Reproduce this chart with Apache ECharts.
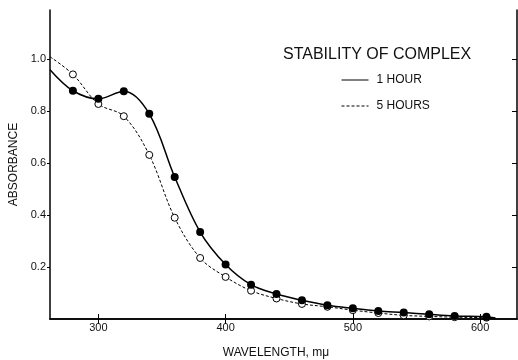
<!DOCTYPE html>
<html>
<head>
<meta charset="utf-8">
<script src="https://cdn.jsdelivr.net/npm/echarts@6/dist/echarts.min.js"></script>
<style>
html,body{margin:0;padding:0;background:#fff;}
#c{width:518px;height:360px;}
</style>
</head>
<body>
<div id="c"></div>
<script>
// ---- data ----
const wavelengths = [280, 300, 320, 340, 360, 380, 400, 420, 440, 460, 480, 500, 520, 540, 560, 580, 605];
const hour1 = [0.879, 0.848, 0.877, 0.790, 0.547, 0.335, 0.210, 0.132, 0.096, 0.072, 0.053, 0.041, 0.031, 0.025, 0.018, 0.012, 0.009];
const hour5 = [0.942, 0.828, 0.781, 0.632, 0.390, 0.235, 0.162, 0.109, 0.079, 0.058, 0.047, 0.034, 0.023, 0.014, 0.010, 0.007, 0.005];
// curve continuation beyond the plotted points (no marker)
const hour1Start = [262, 0.96], hour1End = [612, 0.004];
const hour5Start = [262, 1.01], hour5End = [612, 0.003];
const xTicks = [300, 400, 500, 600];
const yTicks = [0.2, 0.4, 0.6, 0.8, 1.0];
const seriesNames = ['1 HOUR', '5 HOURS'];
const titleText = 'STABILITY OF COMPLEX';
const xName = 'WAVELENGTH, m\u03bc';
const yName = 'ABSORBANCE';

function build(xs, ys, start, end) {
  const d = [{value: start, symbol: 'none'}];
  xs.forEach((x, i) => d.push([x, ys[i]]));
  d.push({value: end, symbol: 'none'});
  return d;
}

const FONT = 'Liberation Sans';
const chart = echarts.init(document.getElementById('c'), null, {renderer: 'canvas'});
const axisLine = {show: true, lineStyle: {color: '#000', width: 1.5}};
chart.setOption({
  animation: false,
  backgroundColor: '#fff',
  title: {
    text: titleText, left: 283, top: 47, padding: 0,
    textStyle: {fontFamily: FONT, fontSize: 16, fontWeight: 'normal', color: '#111'}
  },
  legend: {
    orient: 'vertical', left: 341, top: 74, padding: 0,
    itemWidth: 27, itemHeight: 10, itemGap: 14,
    itemStyle: {opacity: 0},
    lineStyle: {width: 1},
    textStyle: {fontFamily: FONT, fontSize: 12, color: '#111', padding: [0, 0, 0, 3]},
    data: seriesNames
  },
  grid: {left: 50, right: 1, top: 10, bottom: 41, containLabel: false, outerBoundsMode: 'none'},
  xAxis: [{
    type: 'value', min: 262, max: 629, position: 'bottom',
    name: xName, nameLocation: 'middle', nameGap: 28,
    nameTextStyle: {fontFamily: FONT, fontSize: 12, color: '#111', padding: [0, 15, 0, 0]},
    axisLine: axisLine,
    axisTick: {show: true, inside: true, length: 5, customValues: xTicks, lineStyle: {color: '#000', width: 1}},
    axisLabel: {customValues: xTicks, fontFamily: FONT, fontSize: 11, color: '#111', margin: 3},
    splitLine: {show: false}
  }, {
    type: 'value', min: 262, max: 629, position: 'top',
    axisLine: axisLine,
    axisTick: {show: true, inside: true, length: 5, customValues: xTicks, lineStyle: {color: '#000', width: 1}},
    axisLabel: {show: false},
    splitLine: {show: false}
  }],
  yAxis: [{
    type: 'value', min: 0, max: 1.19, position: 'left',
    name: yName, nameLocation: 'middle', nameGap: 30, nameRotate: 90,
    nameTextStyle: {fontFamily: FONT, fontSize: 12, color: '#111'},
    axisLine: axisLine,
    axisTick: {show: true, inside: false, length: 3, customValues: yTicks, lineStyle: {color: '#000', width: 1}},
    axisLabel: {customValues: yTicks, fontFamily: FONT, fontSize: 11, color: '#111', margin: 4,
      formatter: v => v.toFixed(1)},
    splitLine: {show: false}
  }, {
    type: 'value', min: 0, max: 1.19, position: 'right',
    axisLine: axisLine,
    axisTick: {show: true, inside: true, length: 5, customValues: yTicks, lineStyle: {color: '#000', width: 1}},
    axisLabel: {show: false},
    splitLine: {show: false}
  }],
  series: [{
    name: seriesNames[0], type: 'line', smooth: 0.35, z: 3,
    data: build(wavelengths, hour1, hour1Start, hour1End),
    symbol: 'circle', symbolSize: 8,
    itemStyle: {color: '#000'},
    lineStyle: {color: '#000', width: 1.5, type: 'solid'}
  }, {
    name: seriesNames[1], type: 'line', smooth: 0.35, z: 2,
    data: build(wavelengths, hour5, hour5Start, hour5End),
    symbol: 'circle', symbolSize: 7,
    itemStyle: {color: '#fff', borderColor: '#000', borderWidth: 1},
    lineStyle: {color: '#000', width: 1, type: [3, 2]}
  }]
});
</script>
</body>
</html>
